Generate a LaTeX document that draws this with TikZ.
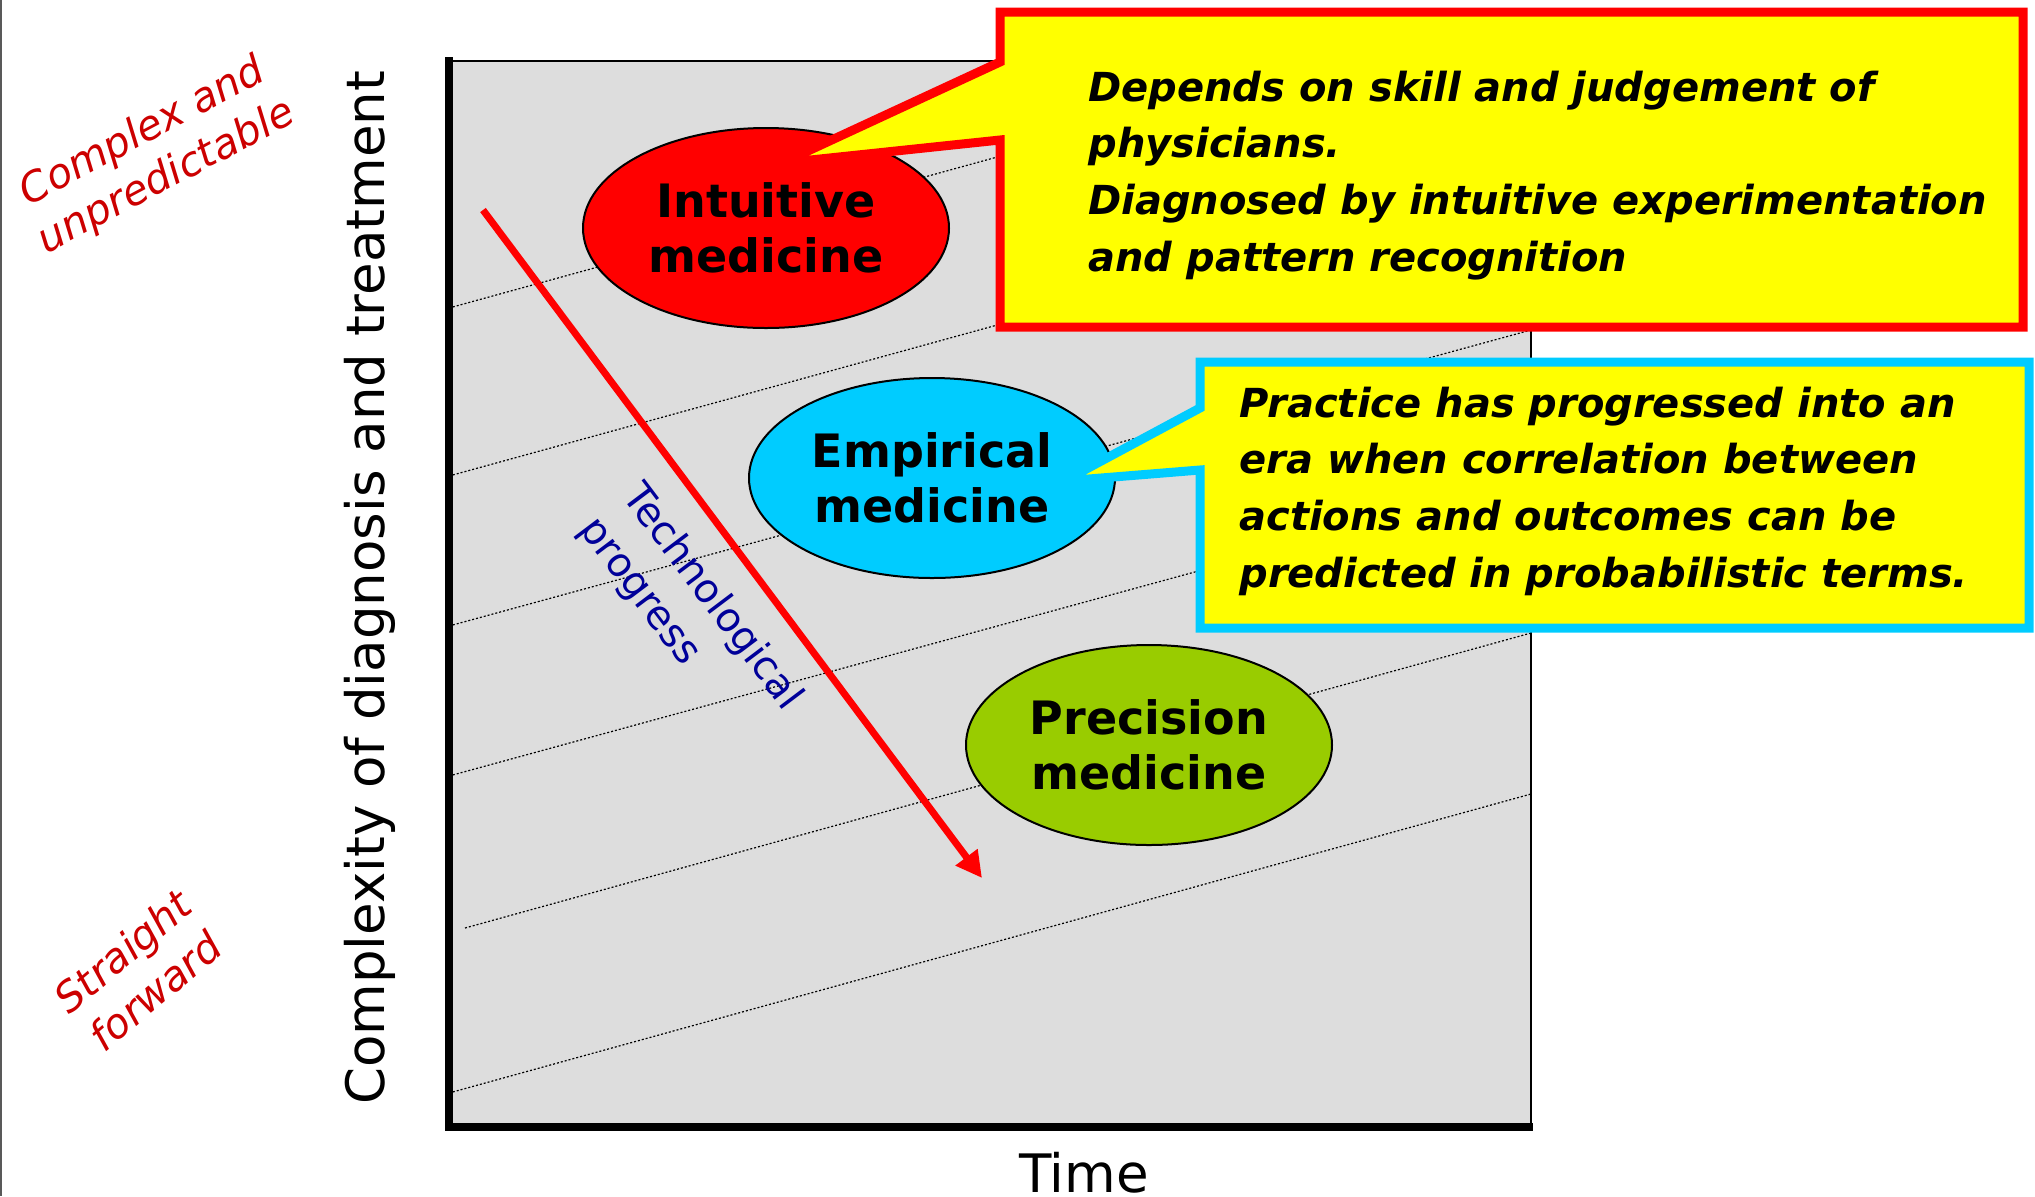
\documentclass[tikz,border=0pt]{standalone}
\usepackage{fontspec}
\setmainfont{DejaVu Sans}
\usetikzlibrary{arrows.meta,shapes.geometric}
\definecolor{boxgray}{HTML}{DDDDDD}
\definecolor{calloutyellow}{HTML}{FFFF00}
\definecolor{intured}{HTML}{FF0000}
\definecolor{empcyan}{HTML}{00CCFF}
\definecolor{precgreen}{HTML}{99CC00}
\definecolor{labelred}{HTML}{CC0000}
\definecolor{navytext}{HTML}{000099}
\tikzset{
  ell/.style={ellipse, draw=black, line width=1pt, minimum width=183pt, minimum height=100pt,
    inner sep=0pt, align=center, font=\fontsize{23pt}{27.5pt}\selectfont\bfseries},
  callouttext/.style={inner sep=0pt, align=left, anchor=base west,
    font=\fontsize{20pt}{28.3pt}\selectfont\bfseries\itshape},
  dotline/.style={black, line width=0.6pt, dash pattern=on 1pt off 1pt},
  sidelabel/.style={labelred, align=center, font=\fontsize{20.5pt}{25.5pt}\selectfont\itshape},
  axislabel/.style={font=\fontsize{26.5pt}{30pt}\selectfont, inner sep=0pt}
}
\begin{document}
\begin{tikzpicture}[x=0.5pt,y=-0.5pt]
\useasboundingbox (0,0) rectangle (2035,1196);
% left frame line
\draw[black!65, line width=1pt] (1,0) -- (1,1196);
% plot box
\fill[boxgray] (449,61) rectangle (1531,1127);
\draw[black, line width=0.6pt] (449,61) -- (1531,61) -- (1531,1127);
\begin{scope}
\clip (453,61) rectangle (1531,1123);
\draw[dotline] (449,308) -- ++(1082,-298);
\draw[dotline] (449,476) -- ++(1082,-298);
\draw[dotline] (449,626) -- ++(1082,-296);
\draw[dotline] (449,776) -- ++(1082,-296);
\draw[dotline] (465,928) -- ++(1066,-295);
\draw[dotline] (449,1093) -- ++(1082,-299);
\end{scope}
\draw[black, line width=4pt] (449,57) -- (449,1131);
\draw[black, line width=4pt] (445,1127) -- (1533,1127);
% axis labels
\node[axislabel, rotate=90] (ylab) at (370,588) {Complexity of diagnosis and treatment};
\node[axislabel, anchor=base] (xlab) at (1084,1192) {Time};
% side labels
\node[sidelabel, rotate=28] (complex) at (155,155) {Complex and\\unpredictable};
\node[sidelabel, rotate=40] (straight) at (139,971) {Straight\\forward};
% arrow
\coordinate (arrS) at (483,210);
\coordinate (arrE) at (982,878);
\draw[intured, line width=3.5pt, -{Triangle[length=13pt,width=13pt]}] (arrS) -- (arrE);
\node[navytext, rotate=-53, align=left, font=\fontsize{20pt}{27pt}\selectfont] (tech) at (690,614) {Technological\\progress};
% ellipses
\node[ell, fill=intured] (intu) at (766,228) {Intuitive\\medicine};
\node[ell, fill=empcyan] (emp) at (932,478) {Empirical\\medicine};
\node[ell, fill=precgreen] (prec) at (1149,745) {Precision\\medicine};
% callout 1
\draw[intured, fill=calloutyellow, line width=4.5pt, line join=miter]
  (1000,12) -- (2023,12) -- (2023,327) -- (1000,327) -- (1000,140) -- (782,163) -- (1000,62) -- cycle;
\node[callouttext] (c1) at (1088,271) {Depends on skill and judgement of\\physicians.\\Diagnosed by intuitive experimentation\\and pattern recognition};
% callout 2
\draw[empcyan, fill=calloutyellow, line width=4.5pt, line join=miter]
  (1200,362) -- (2029,362) -- (2029,628) -- (1200,628) -- (1200,470) -- (1064,481) -- (1200,408) -- cycle;
\node[callouttext] (c2) at (1239,587) {Practice has progressed into an\\era when correlation between\\actions and outcomes can be\\predicted in probabilistic terms.};
\end{tikzpicture}
\end{document}
